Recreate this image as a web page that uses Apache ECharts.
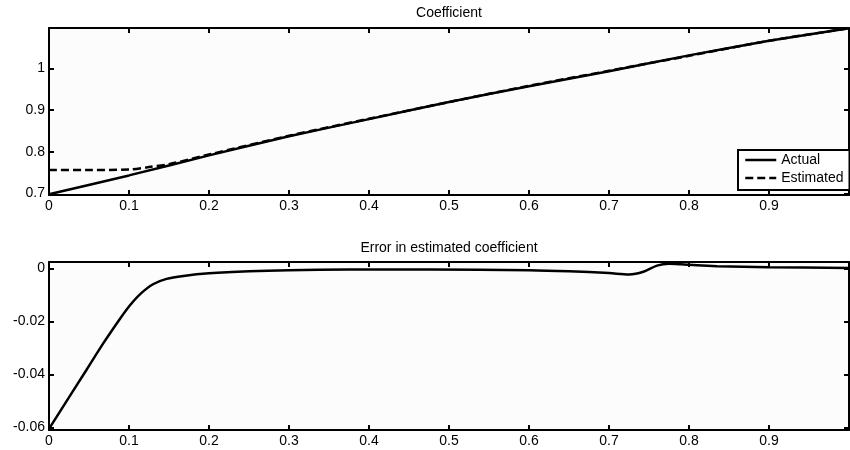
<!DOCTYPE html>
<html>
<head>
<meta charset="utf-8">
<script src="https://cdn.jsdelivr.net/npm/echarts@6/dist/echarts.min.js"></script>
<style>
html,body{margin:0;padding:0;background:#fff;}
#main{width:850px;height:450px;}
</style>
</head>
<body>
<div id="main"></div>
<script>
// ---- data ----
const topTitle = 'Coefficient';
const bottomTitle = 'Error in estimated coefficient';
const legendNames = ['Actual', 'Estimated'];

const xActual = [0, 0.1, 0.2, 0.3, 0.4, 0.5, 0.6, 0.7, 0.8, 0.9, 1.0];
const actualValues = [0.698, 0.743, 0.791, 0.837, 0.878, 0.919, 0.957, 0.993, 1.031, 1.066, 1.096];

const xEstimated = [0, 0.05, 0.1, 0.125, 0.15, 0.2, 0.3, 0.4, 0.5, 0.6, 0.7, 0.8, 0.9, 1.0];
const estimatedValues = [0.756, 0.756, 0.757, 0.763, 0.770, 0.793, 0.838, 0.879, 0.919, 0.958, 0.994, 1.030, 1.066, 1.096];

const xError = [0, 0.022, 0.047, 0.068, 0.089, 0.101, 0.114, 0.13, 0.147, 0.168, 0.2, 0.25, 0.3, 0.375, 0.475, 0.6, 0.65, 0.7, 0.725, 0.743, 0.76, 0.775, 0.79, 0.81, 0.835, 0.9, 1.0];
const errorValues = [-0.0605, -0.0500, -0.0382, -0.0282, -0.0189, -0.0140, -0.0097, -0.0060, -0.0040, -0.0029, -0.0019, -0.0011, -0.0007, -0.0005, -0.0005, -0.0007, -0.0011, -0.0018, -0.0023, -0.0013, 0.0010, 0.0017, 0.0015, 0.0011, 0.0008, 0.0004, 0.0001];

const xTicks = [0, 0.1, 0.2, 0.3, 0.4, 0.5, 0.6, 0.7, 0.8, 0.9];
const topYTicks = [0.7, 0.8, 0.9, 1];
const bottomYTicks = [-0.06, -0.04, -0.02, 0];

const xRange = [0, 1];
const topYRange = [0.696, 1.0967];
const bottomYRange = [-0.0609, 0.00237];
// --------------------------------------

const FONT = 'Liberation Sans, Arial, Helvetica, sans-serif';
const pair = (xs, ys) => xs.map((x, i) => [x, ys[i]]);

function xAx(grid, pos, range, labels) {
  return {
    type: 'value', gridIndex: grid, position: pos, min: range[0], max: range[1],
    splitLine: {show: false},
    axisLine: {show: true, onZero: false, lineStyle: {color: '#000', width: 2}},
    axisTick: {show: true, inside: true, length: 5, customValues: xTicks, lineStyle: {color: '#000', width: 2}},
    axisLabel: labels ? {show: true, customValues: xTicks, color: '#000', fontSize: 14, fontFamily: FONT, margin: 4} : {show: false}
  };
}
function yAx(grid, pos, range, ticks, labels) {
  return {
    type: 'value', gridIndex: grid, position: pos, min: range[0], max: range[1],
    splitLine: {show: false},
    axisLine: {show: true, onZero: false, lineStyle: {color: '#000', width: 2}},
    axisTick: {show: true, inside: true, length: 5, customValues: ticks, lineStyle: {color: '#000', width: 2}},
    axisLabel: labels ? {show: true, customValues: ticks, color: '#000', fontSize: 14, fontFamily: FONT, margin: 4} : {show: false}
  };
}

const chart = echarts.init(document.getElementById('main'), null, {renderer: 'canvas'});
chart.setOption({
  animation: false,
  backgroundColor: '#ffffff',
  title: [
    {text: topTitle, left: 449, top: 6, padding: 0, textAlign: 'center',
     textStyle: {fontSize: 14, fontWeight: 'normal', color: '#000', fontFamily: FONT}},
    {text: bottomTitle, left: 449, top: 241, padding: 0, textAlign: 'center',
     textStyle: {fontSize: 14, fontWeight: 'normal', color: '#000', fontFamily: FONT}}
  ],
  legend: {
    data: legendNames, orient: 'vertical', left: 738, top: 150,
    padding: [3, 6, 5, 6], itemGap: 4, itemWidth: 31, itemHeight: 14,
    backgroundColor: '#ffffff', borderColor: '#000', borderWidth: 2, borderRadius: 0,
    itemStyle: {opacity: 0},
    lineStyle: {width: 2.5, color: '#000'},
    textStyle: {fontSize: 14, color: '#000', fontFamily: FONT},
    selectedMode: false
  },
  grid: [
    {left: 49, top: 28, width: 800, height: 167, show: true, backgroundColor: '#fcfcfc', borderWidth: 0},
    {left: 49, top: 262, width: 800, height: 168, show: true, backgroundColor: '#fcfcfc', borderWidth: 0}
  ],
  xAxis: [
    xAx(0, 'bottom', xRange, true),
    xAx(0, 'top', xRange, false),
    xAx(1, 'bottom', xRange, true),
    xAx(1, 'top', xRange, false)
  ],
  yAxis: [
    yAx(0, 'left', topYRange, topYTicks, true),
    yAx(0, 'right', topYRange, topYTicks, false),
    yAx(1, 'left', bottomYRange, bottomYTicks, true),
    yAx(1, 'right', bottomYRange, bottomYTicks, false)
  ],
  series: [
    {name: legendNames[0], type: 'line', xAxisIndex: 0, yAxisIndex: 0, data: pair(xActual, actualValues),
     symbol: 'none', smooth: 0.2, lineStyle: {color: '#000', width: 2.5, type: 'solid'}, itemStyle: {color: '#000'}, z: 3},
    {name: legendNames[1], type: 'line', xAxisIndex: 0, yAxisIndex: 0, data: pair(xEstimated, estimatedValues),
     symbol: 'none', smooth: 0.3, lineStyle: {color: '#000', width: 2.5, type: [8, 4]}, itemStyle: {color: '#000'}, z: 2},
    {name: 'Error', type: 'line', xAxisIndex: 2, yAxisIndex: 2, data: pair(xError, errorValues),
     symbol: 'none', smooth: 0.3, lineStyle: {color: '#000', width: 2.5}, itemStyle: {color: '#000'}}
  ]
});
</script>
</body>
</html>
